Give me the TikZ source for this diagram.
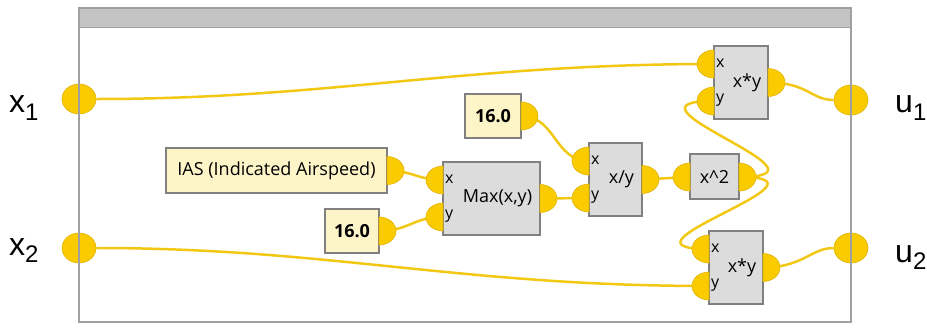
\documentclass[tikz,border=0pt]{standalone}
\usepackage{fontspec}
\setmainfont{Open Sans}
\newfontfamily\iofont{Liberation Sans}
\usetikzlibrary{shapes.geometric}
\pgfdeclarelayer{wires}
\pgfsetlayers{wires,main}
\definecolor{portyellow}{RGB}{250,204,0}
\definecolor{portedge}{RGB}{222,178,0}
\definecolor{wireyellow}{RGB}{242,200,20}
\definecolor{boxgrey}{RGB}{220,220,220}
\definecolor{boxedge}{RGB}{128,128,128}
\definecolor{constfill}{RGB}{253,245,200}
\definecolor{framegrey}{RGB}{160,160,160}
\definecolor{headgrey}{RGB}{196,196,196}

\begin{document}
\begin{tikzpicture}[x=1pt, y=-1pt,
    fnbox/.style={draw=boxedge, fill=boxgrey, line width=1.5pt, inner sep=0pt},
    constbox/.style={draw=boxedge, fill=constfill, line width=1.5pt, inner sep=0pt,
      font=\fontsize{18}{18}\selectfont},
    port/.style={fill=portyellow, draw=portedge, line width=0.6pt},
    ioport/.style={ellipse, port, minimum width=34pt, minimum height=30pt, inner sep=0pt},
    wire/.style={draw=wireyellow, line width=2.5pt},
    pinlbl/.style={font=\fontsize{16}{16}\selectfont, inner sep=0pt, anchor=west},
    fnlbl/.style={font=\fontsize{18}{18}\selectfont, inner sep=0pt},
    iolbl/.style={font=\iofont\fontsize{32}{32}\selectfont, inner sep=0pt, anchor=base west}]
  \useasboundingbox (0,0) rectangle (927,327);
  % half-disc ports on a block edge, centre at (#2,#3)
  \newcommand{\inport}[3]{%
    \filldraw[port] (#2,#3-14) arc[start angle=90, end angle=270, x radius=17pt, y radius=14pt] -- cycle;
    \coordinate (#1) at (#2,#3);
  }
  \newcommand{\outport}[3]{%
    \filldraw[port] (#2,#3+14) arc[start angle=-90, end angle=90, x radius=17pt, y radius=14pt] -- cycle;
    \coordinate (#1) at (#2,#3);
  }
  % a two-input block: left edge #2, top edge #3, width #4
  \newcommand{\binop}[5]{%
    \node[fnbox, minimum width=#4, minimum height=73] (#1) at ({#2+#4/2},{#3+36.5}) {};
    \node[fnlbl] (#1-t) at ([xshift=6pt]#1.center) {#5};
    \node[pinlbl] (#1-xl) at (#2+2,#3+17) {x};
    \node[pinlbl] (#1-yl) at (#2+2,#3+54) {y};
    \inport{#1-x}{#2}{#3+18}
    \inport{#1-y}{#2}{#3+55}
    \outport{#1-o}{#2+#4}{#3+36.5}
  }
  % a constant / signal box with one output on its right edge
  \newcommand{\constblock}[6]{%
    \node[constbox, minimum width=#4-#2, minimum height=#5-#3] (#1) at ({(#2+#4)/2},{(#3+#5)/2}) {#6};
    \outport{#1-o}{#4}{0.5*#3+0.5*#5}
  }
  % ------------------------------------------------------------------ frame
  \fill[headgrey] (79,8) rectangle (851,27);
  % ------------------------------------------------------------------ sources
  \constblock{ias}{166}{148}{387}{193}{IAS (Indicated Airspeed)}
  \constblock{cmin}{325}{209}{379}{253}{\bfseries 16.0}
  \constblock{cdiv}{465}{94}{521}{138}{\bfseries 16.0}
  % ------------------------------------------------------------------ blocks
  \binop{max}{443}{162}{97}{Max(x,y)}
  \binop{div}{589}{143}{53}{x/y}
  \node[fnbox, minimum width=49, minimum height=45] (sq) at (714.5,176.5) {};
  \node[fnlbl] (sq-t) at (sq.center) {x\textasciicircum2};
  \inport{sq-i}{690}{177}
  \outport{sq-o}{739}{177}
  \binop{mt}{714}{46}{54}{x*y}
  \binop{mb}{709}{231}{54}{x*y}
  % ------------------------------------------------------------------ inputs and outputs
  \node[ioport] (x1) at (79,99) {};
  \node[ioport] (x2) at (79,248) {};
  \node[ioport] (u1) at (851,100) {};
  \node[ioport] (u2) at (851,248) {};
  \node[iolbl] (x1l) at (9,112) {x\raisebox{-8pt}{\fontsize{24}{24}\selectfont 1}};
  \node[iolbl] (x2l) at (9,255) {x\raisebox{-7pt}{\fontsize{24}{24}\selectfont 2}};
  \node[iolbl] (u1l) at (895,112) {u\raisebox{-8pt}{\fontsize{24}{24}\selectfont 1}};
  \node[iolbl] (u2l) at (895,262) {u\raisebox{-7pt}{\fontsize{24}{24}\selectfont 2}};
  \draw[framegrey, line width=2pt] (79,8) rectangle (851,322);
  \draw[framegrey, line width=1pt] (79,27) -- (851,27);
  % ------------------------------------------------------------------ wires
  \begin{pgfonlayer}{wires}
    \draw[wire] (x1) .. controls +(250,0) and +(-250,0) .. (mt-x);
    \draw[wire] (x2) .. controls +(250,0) and +(-250,0) .. (mb-y);
    \draw[wire] (ias-o) .. controls +(25,0) and +(-25,0) .. (max-x);
    \draw[wire] (cmin-o) .. controls +(30,0) and +(-30,0) .. (max-y);
    \draw[wire] (cdiv-o) .. controls +(35,0) and +(-35,0) .. (div-x);
    \draw[wire] (max-o) -- (div-y);
    \draw[wire] (div-o) -- (sq-i);
    \draw[wire] (sq-o) .. controls +(110,0) and +(-110,0) .. (mt-y);
    \draw[wire] (sq-o) .. controls +(110,0) and +(-110,0) .. (mb-x);
    \draw[wire] (mt-o) .. controls +(40,0) and +(-40,0) .. (u1);
    \draw[wire] (mb-o) .. controls +(40,0) and +(-40,0) .. (u2);
  \end{pgfonlayer}
\end{tikzpicture}
\end{document}
